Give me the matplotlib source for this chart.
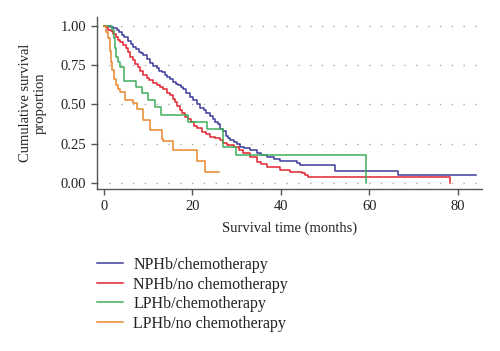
import matplotlib.pyplot as plt
from matplotlib.lines import Line2D

# ------------------------------------------------------------
# Kaplan-Meier step data (months, survival)
# ------------------------------------------------------------

groups = ['NPHb/chemotherapy', 'NPHb/no chemotherapy',
          'LPHb/chemotherapy', 'LPHb/no chemotherapy']
colors = ['#3d3d9c', '#e2232f', '#3fae5c', '#e8862c']

nphb_chemo_t = [0, 1.4, 2.0, 2.9, 3.3, 4.0, 4.6, 5.5, 6.0, 6.6, 7.2, 7.8, 8.3,
                8.9, 9.6, 10.4, 11.1, 11.9, 12.4, 13.0, 13.8, 14.3, 14.9, 15.6,
                16.3, 16.8, 17.4, 17.9, 18.6, 19.5, 20.2, 21.0, 21.7, 22.5,
                23.1, 24.0, 24.6, 25.2, 25.7, 26.3, 26.9, 27.5, 28.0, 28.6,
                29.3, 30.0, 30.8, 31.6, 33.0, 34.5, 35.5, 36.8, 38.5, 39.8,
                43.6, 44.3, 52.3, 66.6, 84.1]
nphb_chemo_s = [1.0, 0.99, 0.985, 0.97, 0.96, 0.94, 0.925, 0.90, 0.885, 0.866,
                0.85, 0.834, 0.825, 0.812, 0.79, 0.76, 0.745, 0.728, 0.715,
                0.705, 0.686, 0.675, 0.662, 0.645, 0.632, 0.62, 0.61, 0.598,
                0.575, 0.548, 0.525, 0.505, 0.48, 0.462, 0.445, 0.425, 0.41,
                0.39, 0.375, 0.345, 0.328, 0.30, 0.284, 0.275, 0.263, 0.245,
                0.232, 0.222, 0.21, 0.19, 0.18, 0.167, 0.155, 0.142, 0.125,
                0.114, 0.076, 0.051, 0.051]

nphb_nochemo_t = [0, 0.5, 1.0, 1.5, 2.1, 2.6, 3.2, 3.6, 4.3, 5.0, 5.5, 5.9,
                  6.6, 7.1, 7.6, 8.2, 8.9, 9.6, 10.2, 11.0, 11.9, 12.6, 13.4,
                  14.2, 14.9, 15.5, 16.1, 16.6, 17.2, 17.7, 18.3, 19.1, 19.6,
                  20.3, 21.0, 22.1, 23.0, 24.0, 25.0, 26.2, 27.0, 27.8, 29.3,
                  30.5, 31.5, 33.0, 34.5, 35.5, 36.8, 39.8, 42.0, 44.7, 45.5,
                  46.2, 78.3]
nphb_nochemo_s = [1.0, 0.99, 0.975, 0.965, 0.945, 0.93, 0.91, 0.895, 0.875,
                  0.855, 0.83, 0.80, 0.78, 0.755, 0.735, 0.71, 0.688, 0.665,
                  0.652, 0.638, 0.622, 0.61, 0.595, 0.575, 0.558, 0.535, 0.515,
                  0.49, 0.463, 0.445, 0.42, 0.405, 0.39, 0.365, 0.348, 0.326,
                  0.31, 0.294, 0.285, 0.273, 0.255, 0.241, 0.23, 0.21, 0.19,
                  0.167, 0.135, 0.12, 0.104, 0.082, 0.07, 0.062, 0.05, 0.036,
                  0.0]

lphb_chemo_t = [0, 1.8, 2.2, 2.5, 2.8, 3.2, 3.6, 4.4, 7.2, 8.5, 10.0, 11.5,
                12.9, 19.1, 23.2, 26.8, 29.9, 59.3]
lphb_chemo_s = [1.0, 0.97, 0.92, 0.86, 0.80, 0.77, 0.74, 0.65, 0.61, 0.57,
                0.53, 0.485, 0.435, 0.39, 0.345, 0.23, 0.178, 0.0]

lphb_nochemo_t = [0, 0.4, 0.8, 1.3, 1.5, 1.8, 2.2, 2.6, 3.2, 3.6, 4.75, 6.6,
                  7.4, 8.75, 10.3, 13.0, 13.4, 15.7, 21.0, 22.9, 25.9]
lphb_nochemo_s = [1.0, 0.96, 0.92, 0.84, 0.77, 0.72, 0.66, 0.62, 0.60, 0.58,
                  0.53, 0.51, 0.47, 0.40, 0.34, 0.28, 0.27, 0.21, 0.14, 0.07,
                  0.07]

y_ticks = [0, 0.25, 0.5, 0.75, 1.0]
y_ticklabels = ['0.00', '0.25', '0.50', '0.75', '1.00']
x_ticks = [0, 20, 40, 60, 80]

curves = [
    (nphb_chemo_t, nphb_chemo_s),
    (nphb_nochemo_t, nphb_nochemo_s),
    (lphb_chemo_t, lphb_chemo_s),
    (lphb_nochemo_t, lphb_nochemo_s),
]

# ------------------------------------------------------------
# Figure
# ------------------------------------------------------------

plt.rcParams['font.family'] = ['Liberation Serif', 'DejaVu Serif']

fig = plt.figure(figsize=(5.0, 3.51), dpi=100)
ax = fig.add_axes([0.194, 0.4615, 0.770, 0.490])

# dotted horizontal grid
for y in y_ticks:
    ax.axhline(y, color='#aaaaaa', lw=1.0, dashes=(1, 7.5), zorder=0)

for (t, s), c in zip(curves, colors):
    ax.step(t, s, where='post', color=c, lw=1.1)

ax.set_xlim(-1.6, 85.5)
ax.set_ylim(-0.038, 1.055)
ax.set_xticks(x_ticks)
ax.set_yticks(y_ticks)
ax.set_yticklabels(y_ticklabels)

for side in ['top', 'right']:
    ax.spines[side].set_visible(False)
for side in ['left', 'bottom']:
    ax.spines[side].set_color('#555555')
    ax.spines[side].set_linewidth(1.0)
ax.tick_params(direction='out', length=4, width=1.0, color='#555555',
               labelsize=10.5, labelcolor='#222222', pad=4)

fig.text(289.5 / 500, 1 - 228 / 351, 'Survival time (months)',
         ha='center', va='center', fontsize=10.5, color='#222222')
fig.text(33 / 500, 1 - 103 / 351, 'Cumulative survival\nproportion',
         ha='center', va='center', rotation=90, fontsize=10.5,
         color='#222222', linespacing=1.2)

handles = [Line2D([], [], color=c, lw=1.1) for c in colors]
fig.legend(handles, groups, loc='upper left',
           bbox_to_anchor=(97 / 500, 1 - 257 / 351), frameon=False,
           fontsize=11.5, handlelength=1.63, handletextpad=0.63,
           labelspacing=0.22, borderpad=0, borderaxespad=0,
           labelcolor='#222222')

fig.savefig('out.png', dpi=100)
